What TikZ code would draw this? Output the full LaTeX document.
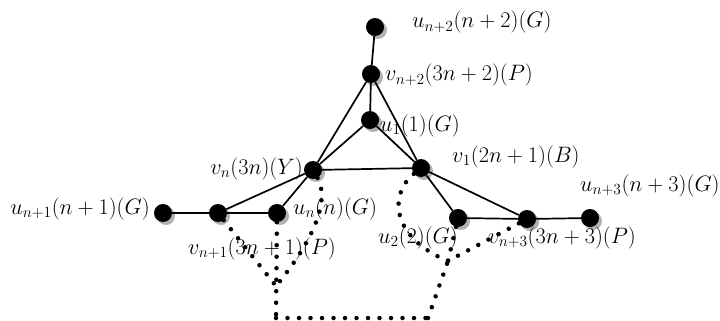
\documentclass[tikz,border=0pt]{standalone}
\usepackage{amsmath}
\usetikzlibrary{shadows}
\begin{document}
\begin{tikzpicture}[x=1pt,y=-1pt,
  vtx/.style={circle,fill=black,inner sep=0pt,minimum size=18pt,
    drop shadow={shadow xshift=3pt,shadow yshift=-3pt,fill=black!30,opacity=1}},
  edge/.style={line width=1.7pt},
  dotline/.style={line width=4.5pt,line cap=round,dash pattern=on 0pt off 11.5pt},
  lbl/.style={inner sep=0pt,anchor=base west,font=\fontsize{20.74}{25}\selectfont,scale=1.075,transform shape},
  lble/.style={lbl,anchor=base east}]
\useasboundingbox (0,0) rectangle (720,321);
% vertices
\node[vtx] (un2) at (375,27) {};
\node[vtx] (vn2) at (371,74) {};
\node[vtx] (u1) at (370,120) {};
\node[vtx] (vn) at (313,170) {};
\node[vtx] (v1) at (421,168) {};
\node[vtx] (un1) at (163,213) {};
\node[vtx] (vn1) at (218,213) {};
\node[vtx] (un) at (277,213) {};
\node[vtx] (u2) at (458,218) {};
\node[vtx] (vn3) at (527,219) {};
\node[vtx] (un3) at (590,218) {};
% helper coordinates for the dotted paths
\coordinate (L) at (276,286);
\coordinate (BL) at (276,318);
\coordinate (BR) at (428,318);
\coordinate (R) at (448,261);
% edges
\draw[edge] (un2) -- (vn2);
\draw[edge] (vn2) -- (u1);
\draw[edge] (vn2) -- (vn);
\draw[edge] (vn2) -- (v1);
\draw[edge] (u1) -- (vn);
\draw[edge] (u1) -- (v1);
\draw[edge] (vn) -- (v1);
\draw[edge] (vn) -- (vn1);
\draw[edge] (vn) -- (un);
\draw[edge] (un1) -- (vn1);
\draw[edge] (vn1) -- (un);
\draw[edge] (v1) -- (u2);
\draw[edge] (v1) -- (vn3);
\draw[edge] (u2) -- (vn3);
\draw[edge] (vn3) -- (un3);
% dotted paths
\draw[dotline] (vn1) -- (L);
\draw[dotline] (un) -- (BL);
\draw[dotline] (vn) .. controls (330,200) and (314,240) .. (L);
\draw[dotline] (BL) -- (BR);
\draw[dotline] (BR) -- (R);
\draw[dotline] (v1) .. controls (388,195) and (392,238) .. (R);
\draw[dotline] (u2) -- (R);
\draw[dotline] (vn3) -- (R);
% labels
\node[lbl] (lun2) at (412,28) {$u_{n+2}(n+2)(G)$};
\node[lbl] (lvn2) at (385,81) {$v_{n+2}(3n+2)(P)$};
\node[lbl] (lu1) at (380,131) {$u_1(1)(G)$};
\node[lble] (lvn) at (303,174) {$v_n(3n)(Y)$};
\node[lbl] (lv1) at (452,162) {$v_1(2n+1)(B)$};
\node[lbl] (lun3) at (580,191) {$u_{n+3}(n+3)(G)$};
\node[lble] (lun1) at (150,214) {$u_{n+1}(n+1)(G)$};
\node[lbl] (lun) at (293,214) {$u_n(n)(G)$};
\node[lbl] (lvn1) at (188,254) {$v_{n+1}(3n+1)(P)$};
\node[lbl] (lu2) at (378,243) {$u_2(2)(G)$};
\node[lbl] (lvn3) at (488,243) {$v_{n+3}(3n+3)(P)$};
\end{tikzpicture}
\end{document}
